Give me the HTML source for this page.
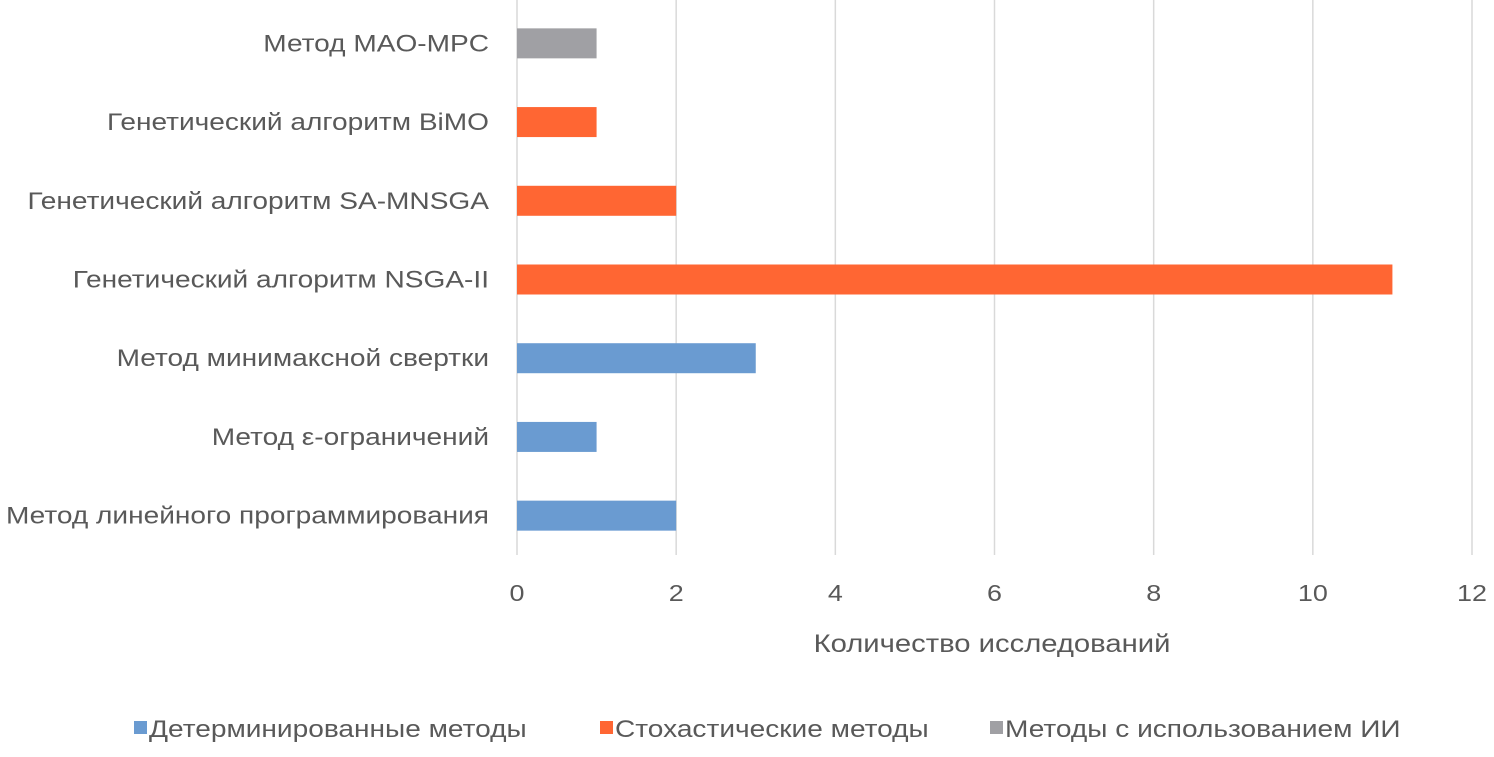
<!DOCTYPE html>
<html><head><meta charset="utf-8"><style>
body{margin:0;background:#fff;width:1494px;height:752px;overflow:hidden}
text{font-family:"Liberation Sans","DejaVu Sans",sans-serif;fill:#595959}
</style></head><body>
<svg width="1494" height="752" id="c">
</svg>
<script>
const categories=["Метод линейного программирования","Метод ε-ограничений","Метод минимаксной свертки","Генетический алгоритм NSGA-II","Генетический алгоритм SA-MNSGA","Генетический алгоритм BiMO","Метод MAO-MPC"];
const values=[2,1,3,11,2,1,1];
const groups=[0,0,0,1,1,1,2];
const seriesNames=["Детерминированные методы","Стохастические методы","Методы с использованием ИИ"];
const ticks=[0,2,4,6,8,10,12];
const colors=["#6A9BD1","#FF6633","#A0A0A4"];
const svgEl=document.getElementById('c');const NS="http://www.w3.org/2000/svg";
const x0=517,x1=1472,plotTop=4,plotBot=555,xmax=12;
const X=v=>x0+(x1-x0)*v/xmax;
const band=(plotBot-plotTop)/categories.length;
const Y=i=>plotBot-band*(i+0.5);
function mk(t,a,txt){const e=document.createElementNS(NS,t);for(const k in a)e.setAttribute(k,a[k]);if(txt!=null)e.textContent=txt;svgEl.appendChild(e);return e;}
function st(x,y,anchor,size,txt){return mk('text',{x:0,y:0,'text-anchor':anchor,'font-size':size,transform:`translate(${x},${y}) scale(1.17,1)`},txt);}
ticks.forEach(t=>{
 const l=mk('line',{x1:X(t),x2:X(t),y1:0,y2:plotBot,stroke:'#D9D9D9','stroke-width':1.5});
 
 
 const tx=st(X(t),601,'middle',23,t);
 
 
});
categories.forEach((c,i)=>{
 const r=mk('rect',{x:X(0),y:Y(i)-15,width:X(values[i])-X(0),height:30,fill:colors[groups[i]]});
 
 
 const t=st(489,Y(i)+8,'end',24,c);
 
 
});
const at=st(992,652,'middle',25,"Количество исследований");


const lx=[134,600,990];
seriesNames.forEach((s,i)=>{
 const r=mk('rect',{x:lx[i],y:721,width:13,height:13,fill:colors[i]});
 
 
 const t=st(lx[i]+15,737,'start',24,s);
 
 
});
</script>
</body></html>
